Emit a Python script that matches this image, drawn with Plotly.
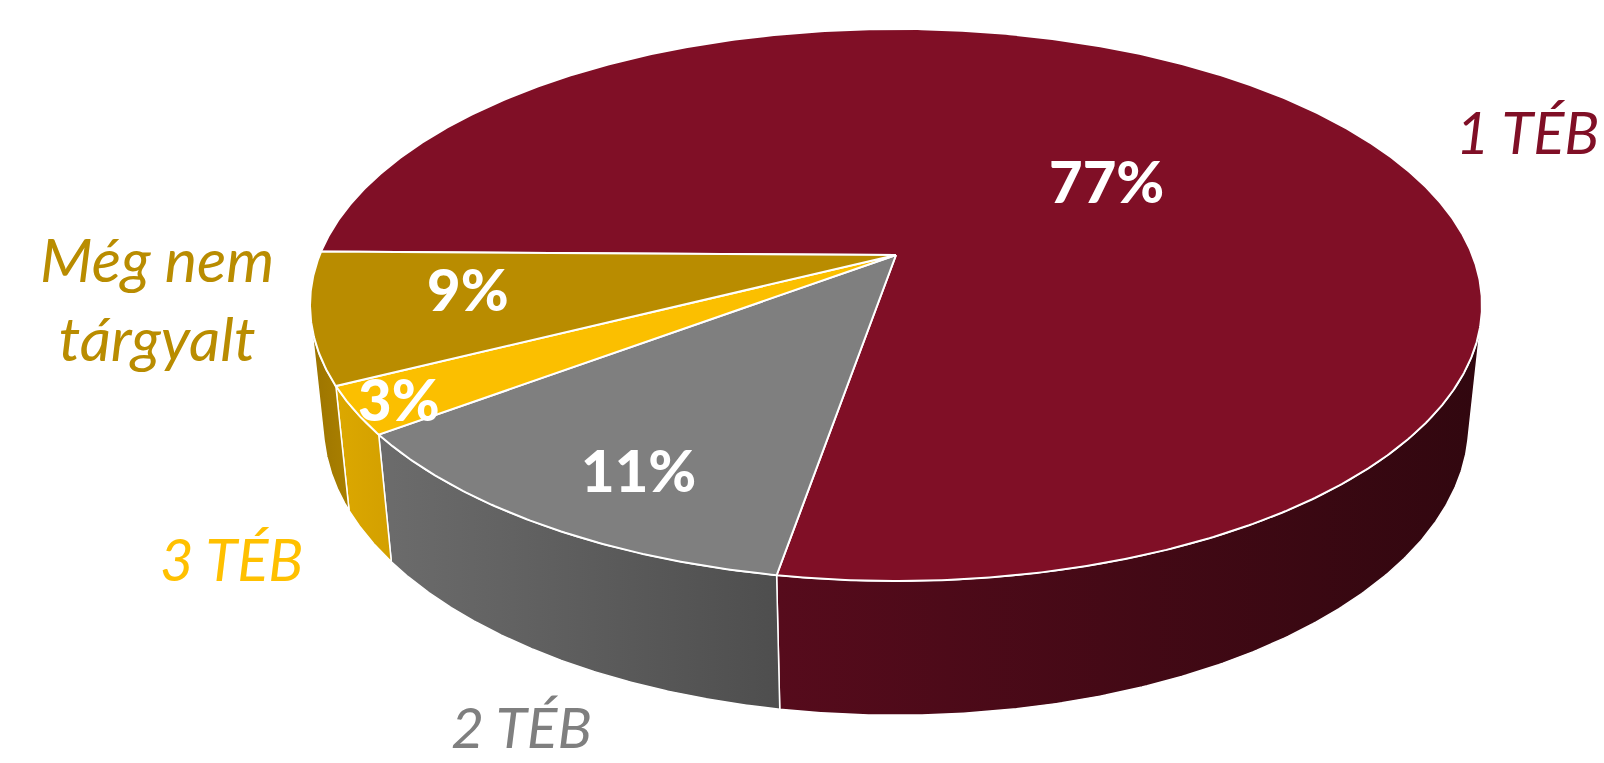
import numpy as np
import plotly.graph_objects as go

# ---------------- data ----------------
categories = ["1 TÉB", "2 TÉB", "3 TÉB", "Még nem tárgyalt"]
values = [77, 11, 3, 9]
pct_labels = ["77%", "11%", "3%", "9%"]
cat_labels = ["1 TÉB", "2 TÉB", "3 TÉB", "Még nem<br>tárgyalt"]

# ---------------- style ----------------
top_colors = ["#800F26", "#7F7F7F", "#FBBF00", "#B98C00"]
side_colors = [("#560B1C", "#31070F"), ("#6C6C6C", "#4E4E4E"),
               ("#DCA800", "#D3A000"), ("#9C7400", "#AA8000")]
label_colors = ["#800F26", "#7F7F7F", "#FFC000", "#B98C00"]
pct_pos = [(1106, 180), (638, 469), (399, 398), (468, 288)]
cat_pos = [(1527, 131, "middle"), (521, 762, "bottom"), (231, 558, "middle"), (157, 298, "middle")]
cat_sizes = [58, 57, 58, 61]

# 3D perspective camera
CX, CY = 896.0, 255.0
FOC = 2821.0
BETA = np.radians(27.6)
DIST = 4.895
THICK = 0.2353
RHO = 0.824          # base ellipse aspect (width / depth)
START = 270.9        # angle of first slice (deg, clockwise from back)


def base_point(alpha_deg):
    a = np.radians(alpha_deg)
    su, cv = np.sin(a) / RHO, np.cos(a)
    n = np.hypot(su, cv)
    return su / n, cv / n


def project(u, v, z):
    W = DIST + v * np.cos(BETA) - z * np.sin(BETA)
    x = CX + FOC * u / W
    y = CY - FOC * (v * np.sin(BETA) + z * np.cos(BETA)) / W
    return x, y


total = float(sum(values))
cum = np.concatenate([[0], np.cumsum(values)])
starts = START + 360.0 * cum[:-1] / total
ends = START + 360.0 * cum[1:] / total

# visible range of the outer wall
th_lim = np.arccos(-1.0 / (DIST * np.cos(BETA)))
a_lo = np.degrees(np.arctan2(RHO * np.sin(th_lim), np.cos(th_lim))) % 360
a_hi = 360 - a_lo

fig = go.Figure()

# walls
for i in range(len(values)):
    a1, a2 = starts[i], ends[i]
    for k in (-1, 0, 1, 2):
        lo = max(a1, a_lo + 360 * k)
        hi = min(a2, a_hi + 360 * k)
        if hi - lo <= 0.01:
            continue
        aa = np.linspace(lo, hi, 200)
        u, v = base_point(aa)
        xt, yt = project(u, v, 0.0)
        xb, yb = project(u, v, -THICK)
        xs = np.concatenate([xt, xb[::-1], xt[:1]])
        ys = np.concatenate([yt, yb[::-1], yt[:1]])
        fig.add_trace(go.Scatter(
            x=xs, y=ys, mode="lines", fill="toself",
            line=dict(color="white", width=1.5),
            fillgradient=dict(type="horizontal",
                              colorscale=[[0, side_colors[i][0]], [1, side_colors[i][1]]]),
            hoverinfo="skip", showlegend=False))

# top faces
for i in range(len(values)):
    aa = np.linspace(starts[i], ends[i], max(20, int(values[i] * 10)))
    u, v = base_point(aa)
    xt, yt = project(u, v, 0.0)
    x0, y0 = project(0.0, 0.0, 0.0)
    xs = np.concatenate([[x0], xt, [x0]])
    ys = np.concatenate([[y0], yt, [y0]])
    fig.add_trace(go.Scatter(
        x=xs, y=ys, mode="lines", fill="toself", fillcolor=top_colors[i],
        line=dict(color="white", width=2), name=categories[i],
        hoverinfo="name", showlegend=False))

for i in range(len(values)):
    fig.add_annotation(x=pct_pos[i][0], y=pct_pos[i][1], text=pct_labels[i],
                       showarrow=False, xanchor="center", yanchor="middle",
                       font=dict(family="Lato", size=58, color="white", weight=900))
    fig.add_annotation(x=cat_pos[i][0], y=cat_pos[i][1], text=cat_labels[i],
                       showarrow=False, xanchor="center", yanchor=cat_pos[i][2],
                       font=dict(family="Lato", size=cat_sizes[i], color=label_colors[i],
                                 style="italic"))

fig.update_xaxes(range=[0, 1604], visible=False)
fig.update_yaxes(range=[763, 0], visible=False)
fig.update_layout(width=1604, height=763, margin=dict(l=0, r=0, t=0, b=0),
                  paper_bgcolor="white", plot_bgcolor="white", showlegend=False)

fig.write_html("out.html", config={"displayModeBar": False},
               post_script="document.body.style.margin='0px';")
